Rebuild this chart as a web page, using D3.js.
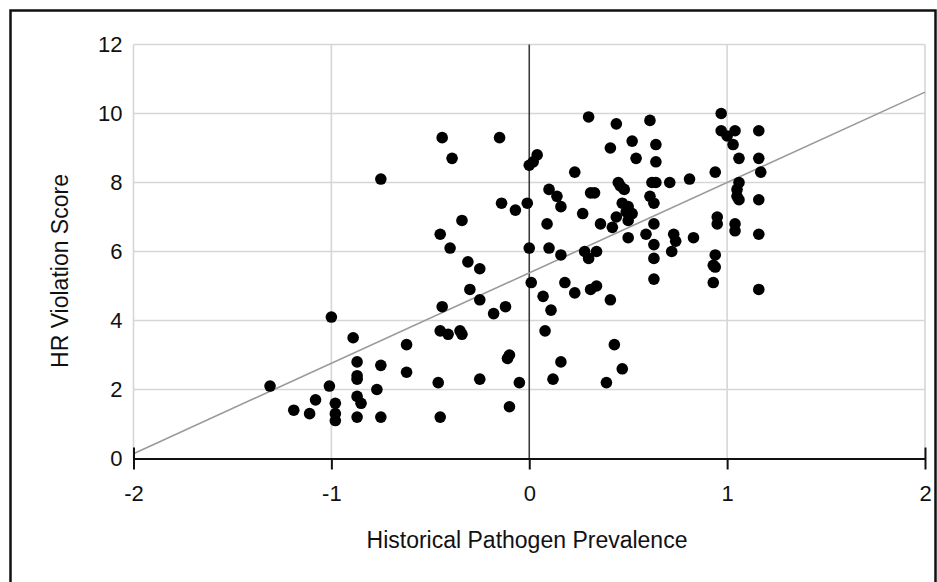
<!DOCTYPE html>
<html>
<head>
<meta charset="utf-8">
<script src="https://cdn.jsdelivr.net/npm/d3@7"></script>
<style>
  html, body { margin: 0; padding: 0; background: #fff; }
  svg { display: block; }
  text { font-family: "Liberation Sans", Arial, Helvetica, sans-serif; fill: #111; }
</style>
</head>
<body>
<svg id="chart" width="937" height="582"></svg>
<script>
// Historical pathogen prevalence (x) against human-rights violation score (y)
const pathogen = [
  -1.31, -1.19, -1.11, -1.08, -1.00, -1.01, -0.98, -0.98, -0.98, -0.89,
  -0.87, -0.87, -0.87, -0.87, -0.85, -0.87, -0.77, -0.75, -0.75, -0.75,
  -0.62, -0.62,
  -0.46, -0.45, -0.45, -0.44, -0.44, -0.45, -0.41, -0.40, -0.39, -0.35,
  -0.34, -0.34, -0.31, -0.30, -0.25, -0.25, -0.25, -0.18, -0.15, -0.14,
  -0.12, -0.11, -0.10, -0.10, -0.07, -0.05, -0.01,
  0.00, 0.01, 0.00, 0.02, 0.04, 0.07, 0.08, 0.09, 0.10, 0.10,
  0.11, 0.12, 0.14, 0.16, 0.16, 0.16, 0.18, 0.23, 0.23, 0.27,
  0.28, 0.30, 0.30, 0.31, 0.33, 0.31, 0.34, 0.34, 0.36, 0.39,
  0.41, 0.41, 0.42, 0.43, 0.44, 0.44, 0.45, 0.46, 0.48, 0.47,
  0.47, 0.50, 0.49, 0.52, 0.50, 0.50,
  0.52, 0.54, 0.61, 0.64, 0.64, 0.62, 0.64, 0.71, 0.81, 0.61,
  0.63, 0.63, 0.59, 0.63, 0.63, 0.63, 0.73, 0.74, 0.72, 0.83,
  0.94, 0.97, 0.97, 1.00, 1.03, 1.04, 1.06, 1.16, 1.16, 1.17,
  1.06, 1.05, 1.05, 1.06, 1.16, 0.95, 0.95, 1.04, 1.04, 1.16,
  0.94, 0.93, 0.94, 0.93, 1.16
];
const violation = [
  2.1, 1.4, 1.3, 1.7, 4.1, 2.1, 1.6, 1.3, 1.1, 3.5,
  2.8, 2.4, 2.3, 1.8, 1.6, 1.2, 2.0, 2.7, 1.2, 8.1,
  3.3, 2.5,
  2.2, 1.2, 6.5, 9.3, 4.4, 3.7, 3.6, 6.1, 8.7, 3.7,
  3.6, 6.9, 5.7, 4.9, 5.5, 4.6, 2.3, 4.2, 9.3, 7.4,
  4.4, 2.9, 3.0, 1.5, 7.2, 2.2, 7.4,
  6.1, 5.1, 8.5, 8.6, 8.8, 4.7, 3.7, 6.8, 6.1, 7.8,
  4.3, 2.3, 7.6, 7.3, 5.9, 2.8, 5.1, 8.3, 4.8, 7.1,
  6.0, 9.9, 5.8, 7.7, 7.7, 4.9, 5.0, 6.0, 6.8, 2.2,
  9.0, 4.6, 6.7, 3.3, 9.7, 7.0, 8.0, 7.9, 7.8, 2.6,
  7.4, 7.3, 7.15, 7.1, 6.9, 6.4,
  9.2, 8.7, 9.8, 9.1, 8.6, 8.0, 8.0, 8.0, 8.1, 7.6,
  7.4, 6.8, 6.5, 6.2, 5.8, 5.2, 6.5, 6.3, 6.0, 6.4,
  8.3, 10.0, 9.5, 9.35, 9.1, 9.5, 8.7, 9.5, 8.7, 8.3,
  8.0, 7.8, 7.6, 7.5, 7.5, 7.0, 6.8, 6.8, 6.6, 6.5,
  5.9, 5.6, 5.55, 5.1, 4.9
];

// Linear trend line: intercept and slope
const trendIntercept = 5.38;
const trendSlope = 2.62;

const xTicks = [-2, -1, 0, 1, 2];
const yTicks = [0, 2, 4, 6, 8, 10, 12];
const xTitle = "Historical Pathogen Prevalence";
const yTitle = "HR Violation Score";

const points = pathogen.map((p, i) => ({ x: p, y: violation[i] }));

const svg = d3.select("#chart");

// Outer frame
svg.append("rect")
  .attr("x", 10.5).attr("y", 10.5)
  .attr("width", 925).attr("height", 590)
  .attr("fill", "none").attr("stroke", "#111").attr("stroke-width", 2.5);

const x = d3.scaleLinear().domain([-2, 2]).range([133.5, 925]);
const y = d3.scaleLinear().domain([0, 12]).range([458.5, 44.5]);

const grid = svg.append("g");

// Horizontal grid lines
grid.selectAll("line.h")
  .data(yTicks.filter(t => t !== 0))
  .join("line")
  .attr("class", "h")
  .attr("x1", x(-2)).attr("x2", x(2))
  .attr("y1", d => y(d)).attr("y2", d => y(d))
  .attr("stroke", "#d6d6d6").attr("stroke-width", 1.6);

// Vertical grid lines (zero line drawn darker)
grid.selectAll("line.v")
  .data(xTicks)
  .join("line")
  .attr("class", "v")
  .attr("x1", d => x(d)).attr("x2", d => x(d))
  .attr("y1", y(12)).attr("y2", y(0))
  .attr("stroke", d => d === 0 ? "#3c3c3c" : "#d6d6d6")
  .attr("stroke-width", 1.6);

// Trend line across the full x range
const xDomain = x.domain();
svg.append("line")
  .attr("x1", x(xDomain[0])).attr("y1", y(trendIntercept + trendSlope * xDomain[0]))
  .attr("x2", x(xDomain[1])).attr("y2", y(trendIntercept + trendSlope * xDomain[1]))
  .attr("stroke", "#9a9a9a").attr("stroke-width", 1.6);

// X axis line and ticks
const xAxis = svg.append("g").attr("transform", `translate(0,${y(0)})`)
  .call(d3.axisBottom(x).tickValues(xTicks).tickSize(10).tickSizeOuter(0).tickFormat(d3.format("d")));
xAxis.select(".domain").attr("stroke", "#111").attr("stroke-width", 2.2);
xAxis.selectAll(".tick line").attr("stroke", "#111").attr("stroke-width", 2)
  .attr("y1", d => (d === -2 || d === 2) ? -11 : 0)
  .attr("y2", 11);
xAxis.selectAll(".tick text")
  .attr("y", 42).attr("dy", 0)
  .style("font-size", "22px").attr("fill", "#111")
  .style("font-family", "'Liberation Sans', Arial, sans-serif")
  .text(d => d < 0 ? "-" + Math.abs(d) : String(d));

// Y axis labels only (grid provides the lines)
const yAxis = svg.append("g").attr("transform", `translate(${x(-2)},0)`)
  .call(d3.axisLeft(y).tickValues(yTicks).tickSize(0).tickPadding(11));
yAxis.select(".domain").remove();
yAxis.selectAll(".tick text")
  .style("font-size", "22px").attr("fill", "#111")
  .style("font-family", "'Liberation Sans', Arial, sans-serif");

// Data points
svg.append("g")
  .selectAll("circle")
  .data(points)
  .join("circle")
  .attr("cx", d => x(d.x))
  .attr("cy", d => y(d.y))
  .attr("r", 5.8)
  .attr("fill", "#000");

// Axis titles
svg.append("text")
  .attr("x", 527).attr("y", 548)
  .attr("text-anchor", "middle")
  .style("font-size", "23px")
  .text(xTitle);

svg.append("text")
  .attr("transform", "translate(68,271) rotate(-90)")
  .attr("text-anchor", "middle")
  .style("font-size", "23px")
  .text(yTitle);
</script>
</body>
</html>
